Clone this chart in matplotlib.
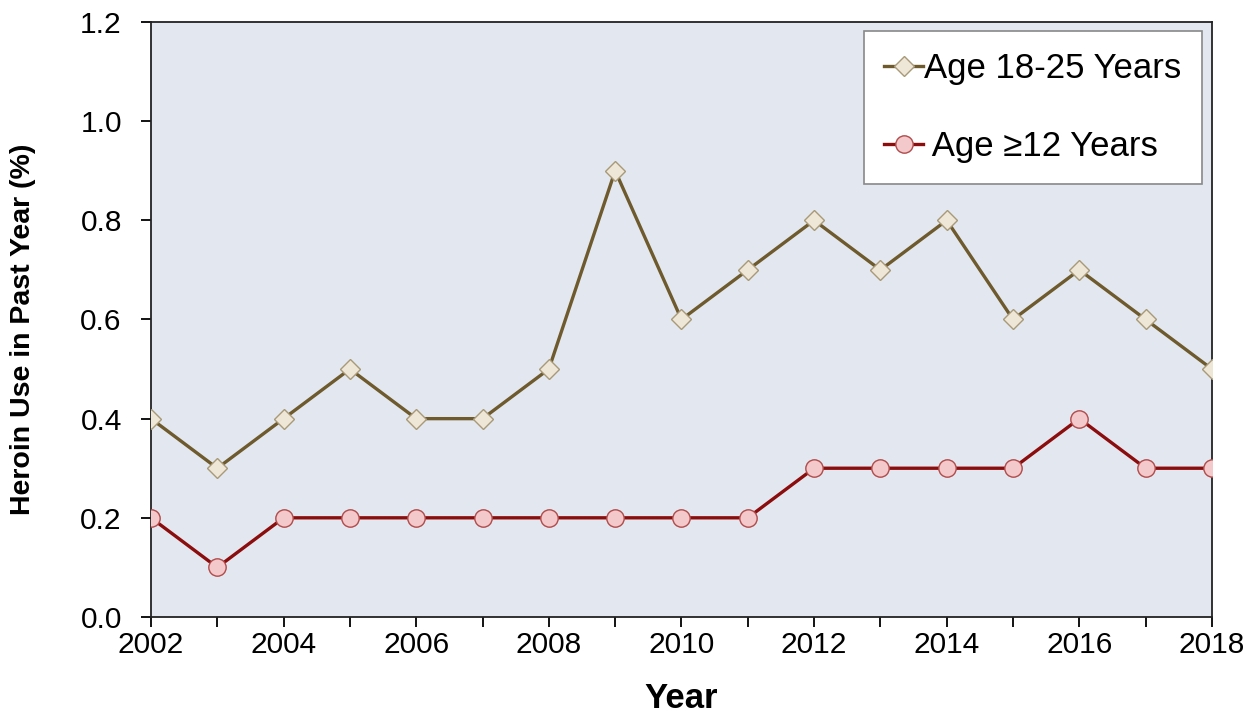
import matplotlib
matplotlib.use("Agg")
import matplotlib.pyplot as plt
from matplotlib.ticker import MultipleLocator

plt.rcParams['font.family'] = ['Liberation Sans', 'DejaVu Sans']

years = list(range(2002, 2019))
age_18_25 = [0.4, 0.3, 0.4, 0.5, 0.4, 0.4, 0.5, 0.9, 0.6, 0.7, 0.8, 0.7, 0.8, 0.6, 0.7, 0.6, 0.5]
age_12_plus = [0.2, 0.1, 0.2, 0.2, 0.2, 0.2, 0.2, 0.2, 0.2, 0.2, 0.3, 0.3, 0.3, 0.3, 0.4, 0.3, 0.3]

fig = plt.figure(figsize=(12.51, 7.19), dpi=100)
ax = fig.add_axes([0.1207, 0.1419, 0.8481, 0.8275])
ax.set_facecolor('#E3E8F0')

ax.plot(years, age_18_25, color='#6E5A2C', linewidth=2.4, marker='D', markersize=10,
        markerfacecolor='#EEE6D6', markeredgecolor='#A89A78', markeredgewidth=1,
        label='Age 18-25 Years', zorder=3)
ax.plot(years, age_12_plus, color='#8B0D0D', linewidth=2.4, marker='o', markersize=12.5,
        markerfacecolor='#F4C9CB', markeredgecolor='#B24A4A', markeredgewidth=1,
        label=' Age \u226512 Years', zorder=3)

ax.set_xlim(2002, 2018)
ax.set_ylim(0, 1.2)
ax.xaxis.set_major_locator(MultipleLocator(2))
ax.xaxis.set_minor_locator(MultipleLocator(1))
ax.yaxis.set_major_locator(MultipleLocator(0.2))
ax.yaxis.set_major_formatter(plt.FuncFormatter(lambda v, p: f'{v:.1f}'))
ax.tick_params(axis='both', which='both', direction='out', length=7, width=1.3, labelsize=21.5)
ax.tick_params(axis='x', which='major', pad=3)
ax.tick_params(axis='y', which='major', pad=14)
for s in ax.spines.values():
    s.set_linewidth(1.3)
    s.set_color('#222222')

ax.set_xlabel('Year', fontsize=25, fontweight='bold', labelpad=17)
ax.set_ylabel('Heroin Use in Past Year (%)', fontsize=20.5, fontweight='bold')
ax.yaxis.set_label_coords(-0.108, 0.483)

leg = ax.legend(loc='upper right', bbox_to_anchor=(0.991, 0.985), fontsize=25, frameon=True,
                fancybox=False, edgecolor='#888888', facecolor='white', framealpha=1,
                labelspacing=1.3, handlelength=1.1, handletextpad=0.05, borderpad=0.6,
                borderaxespad=0.0)
leg.get_frame().set_linewidth(1.2)

fig.savefig('out.png', dpi=100)
